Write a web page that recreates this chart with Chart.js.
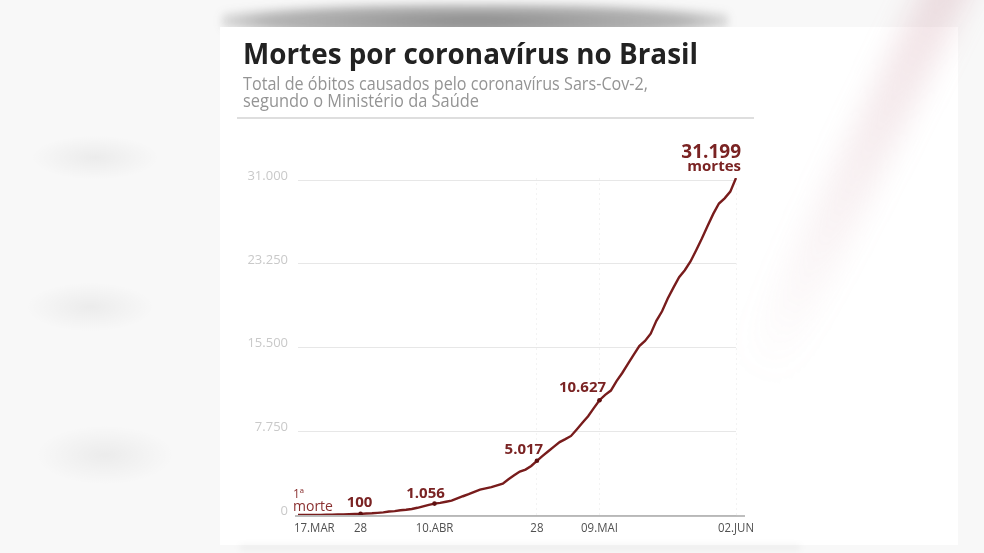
<!DOCTYPE html>
<html><head><meta charset="utf-8">
<script src="https://cdn.jsdelivr.net/npm/chart.js@4/dist/chart.umd.min.js"></script>
<style>
html,body{margin:0;padding:0;width:984px;height:553px;overflow:hidden;background:#f8f8f8;font-family:'Open Sans',sans-serif;}
.blob{position:absolute;background:radial-gradient(ellipse at center,rgba(0,0,0,0.05),rgba(0,0,0,0) 70%);}
#bgblur{position:absolute;left:222px;top:4px;width:506px;height:34px;background:radial-gradient(ellipse at center,rgba(50,50,50,0.55),rgba(60,60,60,0.35) 60%,rgba(80,80,80,0) 80%);filter:blur(4px);}
#card{position:absolute;left:220px;top:27px;width:738px;height:518px;background:#fff;}
#shadow{position:absolute;left:240px;top:545px;width:560px;height:5px;background:rgba(0,0,0,0.05);filter:blur(3px);}
#pink{position:absolute;left:845px;top:-100px;width:46px;height:500px;background:linear-gradient(to bottom,rgba(190,120,135,0.25),rgba(190,120,135,0.08) 70%,rgba(190,120,135,0));filter:blur(14px);transform:rotate(26deg);}
.t{position:absolute;white-space:nowrap;line-height:0;transform-origin:0 0;display:inline-block;}
#title{left:243px;top:53px;font-weight:700;font-size:28.5px;color:#222;}
#sub1{left:243px;top:82.6px;font-size:19px;color:#949494;}
#sub2{left:243px;top:100px;font-size:19px;color:#949494;}
#sep{position:absolute;left:237px;top:117px;width:517px;height:1.5px;background:#dedede;}
canvas{position:absolute;left:0;top:0;}
</style>
</head><body>
<div class="blob" style="left:30px;top:135px;width:130px;height:45px"></div>
<div class="blob" style="left:25px;top:282px;width:130px;height:50px"></div>
<div class="blob" style="left:35px;top:425px;width:140px;height:60px"></div>
<div id="bgblur"></div>
<div id="card"></div>
<div id="shadow"></div>
<div id="pink"></div>
<div id="title" class="t" data-w="455">Mortes por coronavírus no Brasil</div>
<div id="sub1" class="t" data-w="405">Total de óbitos causados pelo coronavírus Sars-Cov-2,</div>
<div id="sub2" class="t" data-w="236">segundo o Ministério da Saúde</div>
<div id="sep"></div>
<canvas id="c" width="984" height="553"></canvas>
<script>
// ---- data ----
const dates = [
 '17/03','18/03','19/03','20/03','21/03','22/03','23/03','24/03','25/03','26/03','27/03','28/03','29/03','30/03','31/03',
 '01/04','02/04','03/04','04/04','05/04','06/04','07/04','08/04','09/04','10/04','11/04','12/04','13/04','14/04','15/04',
 '16/04','17/04','18/04','19/04','20/04','21/04','22/04','23/04','24/04','25/04','26/04','27/04','28/04','29/04','30/04',
 '01/05','02/05','03/05','04/05','05/05','06/05','07/05','08/05','09/05','10/05','11/05','12/05','13/05','14/05','15/05',
 '16/05','17/05','18/05','19/05','20/05','21/05','22/05','23/05','24/05','25/05','26/05','27/05','28/05','29/05','30/05','31/05',
 '01/06','02/06'];
const deaths = [
 1,4,6,11,15,25,34,46,59,77,92,100,136,159,201,
 240,324,359,445,486,553,667,800,941,1056,1124,1223,1328,1532,1736,
 1924,2141,2347,2462,2575,2741,2906,3313,3670,4016,4205,4543,5017,5466,5901,
 6329,6750,7025,7321,7921,8536,9146,9897,10627,11123,11519,12400,13149,13993,14817,
 15633,16118,16792,17971,18859,20047,21048,22013,22666,23473,24512,25598,26754,27878,28834,29314,
 29937,31199];
const xTickDates = ['17/03','28/03','10/04','28/04','09/05','02/06'];
const xTickLabels = ['17.MAR','28','10.ABR','28','09.MAI','02.JUN'];
const yTicks = [0,7750,15500,23250,31000];
const markDates = ['28/03','10/04','28/04','09/05'];
const markLabels = ['100','1.056','5.017','10.627'];
const finalLabel = ['31.199','mortes'];
const firstLabel = ['1ª','morte'];

// ---- layout helpers ----
document.querySelectorAll('.t').forEach(el=>{
  const w = el.getBoundingClientRect().width;
  el.style.transform = 'scaleX(' + (parseFloat(el.dataset.w)/w) + ')';
});
const fmt = v => String(v).replace(/\B(?=(\d{3})+(?!\d))/g,'.');
const markIdx = markDates.map(d=>dates.indexOf(d));
const xTickIdx = xTickDates.map(d=>dates.indexOf(d));
const vGridIdx = xTickIdx.slice(3);
const RED = '#781c1c', LABEL = '#7a2323';
const markOffsets = [[-1,-7],[-9,-6],[-13,-7],[-17,-8]];

const overlay = {
  id:'overlay',
  beforeDatasetsDraw(chart){
    const {ctx, chartArea:a, scales:{y}} = chart;
    const y0 = y.getPixelForValue(0);
    ctx.save();
    ctx.strokeStyle = '#a9a9a9'; ctx.lineWidth = 1.5;
    ctx.beginPath(); ctx.moveTo(a.left-3, y0+1); ctx.lineTo(a.right+9, y0+1); ctx.stroke();
    ctx.restore();
  },
  afterDatasetsDraw(chart){
    const {ctx, scales:{x,y}} = chart;
    ctx.save();
    // x tick labels
    ctx.fillStyle = '#505050'; ctx.font = '13px "Open Sans"'; ctx.textBaseline = 'alphabetic';
    xTickIdx.forEach((i,k)=>{
      const px = x.getPixelForValue(i);
      const txt = xTickLabels[k];
      const w = ctx.measureText(txt).width*0.88;
      ctx.save();
      const left = k===0 ? px-4 : px - w/2;
      ctx.translate(left, 532); ctx.scale(0.88,1);
      ctx.textAlign = 'left'; ctx.fillText(txt, 0, 0);
      ctx.restore();
    });
    // milestone labels
    ctx.fillStyle = LABEL; ctx.font = 'bold 15px "Open Sans"'; ctx.textAlign='center';
    markIdx.forEach((i,k)=>{
      const px = x.getPixelForValue(i), py = y.getPixelForValue(deaths[i]);
      ctx.fillText(markLabels[k], px+markOffsets[k][0], py+markOffsets[k][1]);
    });
    // final label
    const li = deaths.length-1;
    const fx = x.getPixelForValue(li);
    ctx.textAlign='right';
    ctx.font = 'bold 19px "Open Sans"'; ctx.fillText(finalLabel[0], fx+5, 158);
    ctx.font = 'bold 15px "Open Sans"'; ctx.fillText(finalLabel[1], fx+5, 171);
    // first death
    const sx = x.getPixelForValue(0);
    ctx.textAlign='left'; ctx.fillStyle = '#8a3030';
    ctx.font = '12px "Open Sans"'; ctx.fillText(firstLabel[0], sx-5, 498);
    ctx.font = '14px "Open Sans"'; ctx.fillText(firstLabel[1], sx-5, 511);
    ctx.restore();
  }
};

new Chart(document.getElementById('c'), {
  type:'line',
  data:{labels:dates, datasets:[{
    data:deaths, borderColor:RED, borderWidth:2.4, tension:0, fill:false,
    pointRadius: c => markIdx.includes(c.dataIndex) ? 2.3 : 0,
    pointBackgroundColor:'#5e1010', pointBorderWidth:0
  }]},
  options:{
    responsive:false, animation:false,
    layout:{autoPadding:false, padding:{left:238, right:248, top:178, bottom:38}},
    plugins:{legend:{display:false}, tooltip:{enabled:false}},
    scales:{
      x:{type:'category', offset:false,
         grid:{drawTicks:false, lineWidth:1, color: c => vGridIdx.includes(c.index) ? '#f3f3f3' : 'rgba(0,0,0,0)'},
         border:{display:false, dash:[2,3]},
         ticks:{display:false, autoSkip:false},
         afterFit: s => { s.height = 0; }},
      y:{min:0, max:31199,
         afterBuildTicks: s => { s.ticks = yTicks.map(v=>({value:v})); },
         ticks:{color:'#c9c9c9', font:{family:'Open Sans', size:13}, padding:10, labelOffset:-4, callback: v => fmt(v)},
         grid:{color:'#e7e7e7', drawTicks:false, lineWidth:1},
         border:{display:false},
         afterFit: s => { s.width = 60; }}
    }
  },
  plugins:[overlay]
});
</script>
</body></html>
